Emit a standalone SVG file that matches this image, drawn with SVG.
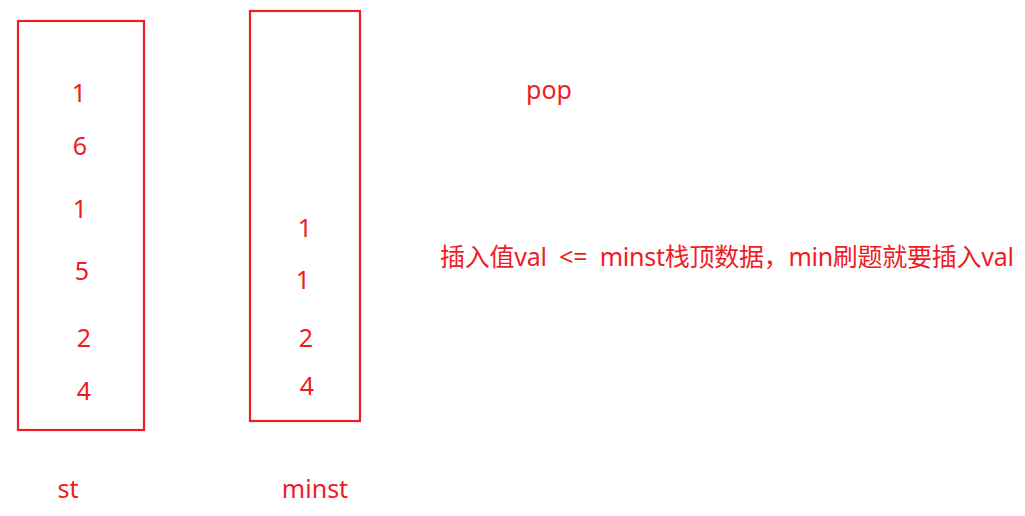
<svg xmlns="http://www.w3.org/2000/svg" width="1025" height="516" viewBox="0 0 1025 516">
<style>
.box{fill:none;stroke:#ee1c25;stroke-width:2.2}
text{fill:#ee1c25;font-family:"Noto Sans","Noto Sans CJK SC",sans-serif;font-size:25px}
.c{text-anchor:middle}
</style>
<rect width="1025" height="516" fill="#fff"/>
<g id="st">
<rect class="box" x="18" y="21" width="126" height="409"/>
<text class="c" x="79" y="102">1</text>
<text class="c" x="80" y="155">6</text>
<text class="c" x="80" y="218">1</text>
<text class="c" x="82" y="280">5</text>
<text class="c" x="84" y="347">2</text>
<text class="c" x="84" y="400">4</text>
<text class="c" x="68" y="498">st</text>
</g>
<g id="minst">
<rect class="box" x="250" y="11" width="110" height="410"/>
<text class="c" x="305" y="237">1</text>
<text class="c" x="303" y="289">1</text>
<text class="c" x="306" y="347">2</text>
<text class="c" x="307" y="395">4</text>
<text class="c" x="315" y="498">minst</text>
</g>
<g id="notes">
<text x="526" y="99">pop</text>
<text x="440" y="266" xml:space="preserve" textLength="574" lengthAdjust="spacing">插入值val  &lt;=  minst栈顶数据，min刷题就要插入val</text>
</g>
<g id="connectors"></g>
</svg>
